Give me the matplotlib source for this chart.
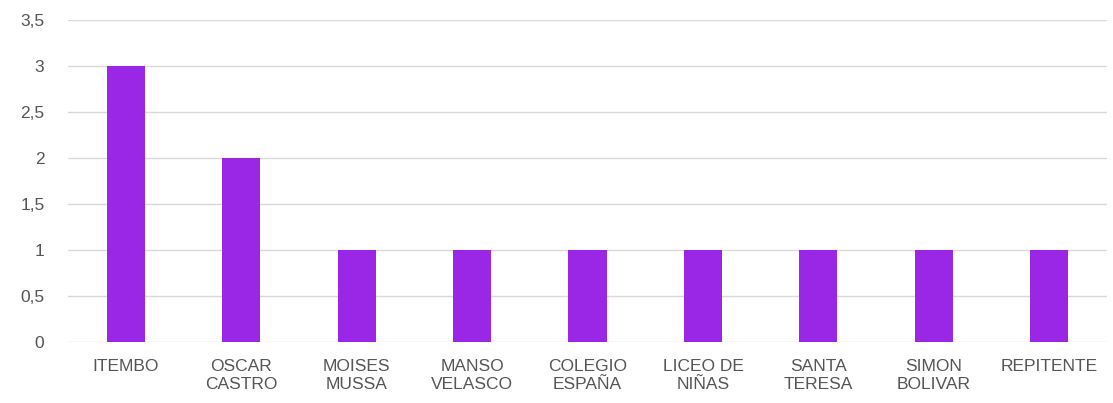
import matplotlib.pyplot as plt
import numpy as np

categories = ["ITEMBO", "OSCAR\nCASTRO", "MOISES\nMUSSA", "MANSO\nVELASCO",
              "COLEGIO\nESPAÑA", "LICEO DE\nNIÑAS", "SANTA\nTERESA",
              "SIMON\nBOLIVAR", "REPITENTE"]
values = [3, 2, 1, 1, 1, 1, 1, 1, 1]
yticks = [0, 0.5, 1, 1.5, 2, 2.5, 3, 3.5]
ytick_labels = ["0", "0,5", "1", "1,5", "2", "2,5", "3", "3,5"]

plt.rcParams['font.family'] = ['Liberation Sans', 'DejaVu Sans']

fig = plt.figure(figsize=(11.13, 4.03), dpi=100)
ax = fig.add_axes([0.0611, 0.1514, 0.9335, 0.799])

x = np.arange(len(categories))
ax.bar(x, values, width=0.33, color='#9b27e6', zorder=3)

ax.set_xlim(-0.5, len(categories) - 0.5)
ax.set_ylim(0, 3.5)
ax.set_yticks(yticks)
ax.set_yticklabels(ytick_labels)
ax.set_xticks(x)
ax.set_xticklabels(categories, linespacing=1.3)

ax.grid(axis='y', color='#d9d9d9', linewidth=1, zorder=0)
for s in ax.spines.values():
    s.set_visible(False)
ax.tick_params(axis='both', length=0, labelsize=12.5, colors='#555555')
ax.tick_params(axis='y', pad=17)
ax.tick_params(axis='x', pad=12)

fig.savefig("out.png", dpi=100)
